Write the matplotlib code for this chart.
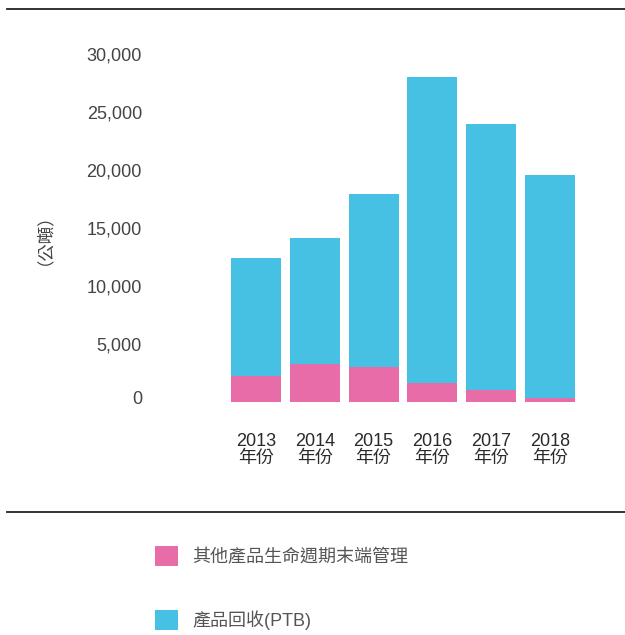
import matplotlib.pyplot as plt
from matplotlib.lines import Line2D
import matplotlib.transforms as mtransforms
import numpy as np

plt.rcParams['font.family'] = ['Liberation Sans', 'Noto Sans CJK TC', 'DejaVu Sans']

years = ['2013', '2014', '2015', '2016', '2017', '2018']
other_eol = [2200, 3300, 3000, 1650, 1050, 350]      # 其他產品生命週期末端管理
ptb = [10200, 10800, 14900, 26350, 22950, 19250]      # 產品回收(PTB)

pink = '#E86CA8'
blue = '#47C1E3'

fig = plt.figure(figsize=(6.25, 6.35), dpi=100)
# axes placed in pixel terms: x 226.6-579.4, y 54-402
ax = fig.add_axes([226.6 / 625, 1 - 402 / 635, 352.8 / 625, 348 / 635])

index = np.arange(len(years))
bar_width = 0.85

r1 = ax.bar(index, other_eol, bar_width, color=pink, label='其他產品生命週期末端管理')
r2 = ax.bar(index, ptb, bar_width, bottom=other_eol, color=blue, label='產品回收(PTB)')

ax.set_xlim(-0.5, 5.5)
ax.set_ylim(0, 30000)
ax.set_yticks(np.arange(0, 30001, 5000))
ax.set_yticklabels(['{:,}'.format(v) for v in range(0, 30001, 5000)])
ax.set_xticks(index)
ax.set_xticklabels([y + '\n年份' for y in years], linespacing=1.05)

ax.tick_params(axis='y', length=0, pad=61, labelsize=13, labelcolor='#444444')
ax.tick_params(axis='x', length=0, pad=22, labelsize=13, labelcolor='#2a2a2a')
for s in ax.spines.values():
    s.set_visible(False)

# the "0" label sits a little above the baseline in the original
zero = ax.yaxis.get_major_ticks()[0].label1
zero.set_transform(zero.get_transform() +
                   mtransforms.ScaledTranslation(0, 5 / 100, fig.dpi_scale_trans))

fig.text(35 / 625, 1 - 230 / 635, '（公噸）', rotation=90, ha='center', va='center',
         fontsize=12.5, color='#444444', family=['Noto Sans CJK TC', 'DejaVu Sans'])

# horizontal rules
fig.add_artist(Line2D([7 / 625, 1], [1 - 9 / 635] * 2, transform=fig.transFigure,
                      color='#222222', lw=1.3))
fig.add_artist(Line2D([7 / 625, 1], [1 - 512 / 635] * 2, transform=fig.transFigure,
                      color='#222222', lw=1.3))

fig.legend(handles=[r1, r2], loc='upper left',
           bbox_to_anchor=(155 / 625, 1 - 546 / 635), frameon=False,
           fontsize=13, labelcolor='#555555', handlelength=1.3, handleheight=1.3,
           handletextpad=0.75, labelspacing=2.45, borderpad=0, borderaxespad=0)

plt.savefig('out.png', dpi=100)
